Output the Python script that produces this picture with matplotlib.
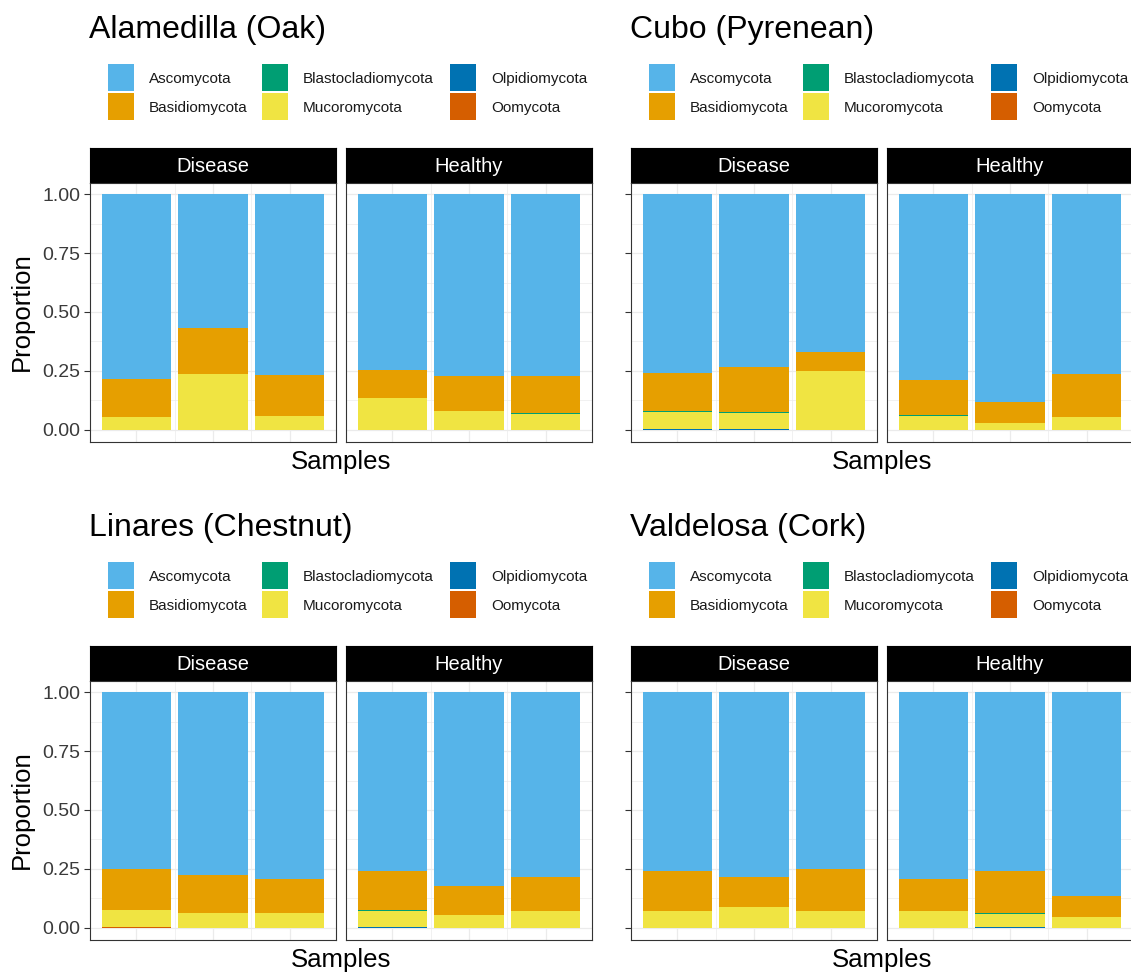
import matplotlib
matplotlib.use("Agg")
import matplotlib.pyplot as plt
from matplotlib.patches import Rectangle

plt.rcParams["font.family"] = ["Liberation Sans", "DejaVu Sans"]

# Phyla in legend order and their fill colours
PHYLA = ["Ascomycota", "Basidiomycota", "Blastocladiomycota",
         "Mucoromycota", "Olpidiomycota", "Oomycota"]
COLORS = ["#56B4E9", "#E69F00", "#009E73", "#F0E442", "#0072B2", "#D55E00"]
# Stacking order from the bottom of each bar upwards
STACK = ["Oomycota", "Olpidiomycota", "Mucoromycota",
         "Blastocladiomycota", "Basidiomycota", "Ascomycota"]

CONDITIONS = ["Disease", "Healthy"]
SAMPLES = [1, 2, 3]

# Relative abundance per sample: Disease 1-3 followed by Healthy 1-3
ALAMEDILLA = {
    "Oomycota":           [0, 0, 0, 0, 0, 0],
    "Olpidiomycota":      [0, 0, 0, 0, 0, 0],
    "Mucoromycota":       [0.056, 0.238, 0.060, 0.134, 0.081, 0.066],
    "Blastocladiomycota": [0, 0, 0, 0, 0, 0.004],
    "Basidiomycota":      [0.159, 0.192, 0.171, 0.120, 0.146, 0.159],
    "Ascomycota":         [0.785, 0.570, 0.769, 0.746, 0.773, 0.771],
}
CUBO = {
    "Oomycota":           [0, 0, 0, 0, 0, 0],
    "Olpidiomycota":      [0.004, 0.004, 0, 0, 0, 0],
    "Mucoromycota":       [0.073, 0.068, 0.249, 0.060, 0.028, 0.055],
    "Blastocladiomycota": [0.001, 0.003, 0, 0.004, 0, 0],
    "Basidiomycota":      [0.163, 0.190, 0.081, 0.146, 0.090, 0.183],
    "Ascomycota":         [0.759, 0.735, 0.670, 0.790, 0.882, 0.762],
}
LINARES = {
    "Oomycota":           [0.005, 0, 0, 0, 0, 0],
    "Olpidiomycota":      [0, 0, 0, 0.004, 0, 0],
    "Mucoromycota":       [0.071, 0.061, 0.062, 0.069, 0.055, 0.069],
    "Blastocladiomycota": [0, 0, 0, 0.003, 0, 0],
    "Basidiomycota":      [0.173, 0.162, 0.143, 0.167, 0.124, 0.148],
    "Ascomycota":         [0.751, 0.777, 0.795, 0.757, 0.821, 0.783],
}
VALDELOSA = {
    "Oomycota":           [0, 0, 0, 0, 0, 0],
    "Olpidiomycota":      [0, 0, 0, 0, 0.004, 0],
    "Mucoromycota":       [0.069, 0.090, 0.069, 0.072, 0.056, 0.044],
    "Blastocladiomycota": [0, 0, 0, 0, 0.002, 0],
    "Basidiomycota":      [0.170, 0.125, 0.180, 0.133, 0.178, 0.089],
    "Ascomycota":         [0.761, 0.785, 0.751, 0.795, 0.760, 0.867],
}

SITES = [
    ("Alamedilla (Oak)", ALAMEDILLA),
    ("Cubo (Pyrenean)", CUBO),
    ("Linares (Chestnut)", LINARES),
    ("Valdelosa (Cork)", VALDELOSA),
]
YTICKS = [0.0, 0.25, 0.5, 0.75, 1.0]
YTICKLABELS = ["0.00", "0.25", "0.50", "0.75", "1.00"]

W, H = 1131, 973
fig = plt.figure(figsize=(W / 100, H / 100), dpi=100)
color_of = dict(zip(PHYLA, COLORS))


def px_rect(x0, y0, x1, y1):
    return [x0 / W, 1 - y1 / H, (x1 - x0) / W, (y1 - y0) / H]


def fx(x):
    return x / W


def fy(y):
    return 1 - y / H


BORDER = "#333333"
GRID = "#EBEBEB"

# block origins (left edge of first facet, vertical offset of the row)
BLOCKS = [(90, 0), (631, 0), (90, 498), (631, 498)]
FACET_W = 246
FACET_GAP = 10

for (title, data), (bx, dy) in zip(SITES, BLOCKS):
    # title
    fig.text(fx(bx - 1), fy(30 + dy), title, fontsize=23, ha="left",
             va="center", color="black")

    # legend: two rows, three columns
    key_x = [bx + 18, bx + 172, bx + 360]
    lab_x = [bx + 59, bx + 213, bx + 401]
    row_y = [(64 + dy, 91 + dy), (93 + dy, 120 + dy)]
    for i, name in enumerate(PHYLA):
        c, r = divmod(i, 2)
        y0, y1 = row_y[r]
        fig.add_artist(Rectangle((fx(key_x[c]), fy(y1)), 26 / W, (y1 - y0) / H,
                                 transform=fig.transFigure,
                                 facecolor=color_of[name], edgecolor="none"))
        fig.text(fx(lab_x[c]), fy((y0 + y1) / 2 + 1.5), name, fontsize=11,
                 ha="left", va="center", color="#1A1A1A")

    left_col = bx < 300
    for k, cond in enumerate(CONDITIONS):
        x0 = bx + k * (FACET_W + FACET_GAP)
        x1 = x0 + FACET_W
        # strip
        sax = fig.add_axes(px_rect(x0, 148 + dy, x1, 182.5 + dy))
        sax.set_facecolor("black")
        sax.set_xticks([])
        sax.set_yticks([])
        for s in sax.spines.values():
            s.set_color("black")
        sax.text(0.5, 0.45, cond, transform=sax.transAxes, color="white",
                 fontsize=14.5, ha="center", va="center")

        ax = fig.add_axes(px_rect(x0, 182.5 + dy, x1, 441.5 + dy))
        ax.set_xlim(0.4, 3.6)
        ax.set_ylim(-0.05, 1.05)
        ax.set_axisbelow(True)
        ax.set_xticks([1, 2, 3])
        ax.set_xticks([1.5, 2.5], minor=True)
        ax.set_yticks(YTICKS)
        ax.set_yticks([0.125, 0.375, 0.625, 0.875], minor=True)
        ax.grid(which="major", color=GRID, lw=0.9)
        ax.grid(which="minor", color=GRID, lw=0.5)
        ax.tick_params(axis="x", which="both", length=0, labelbottom=False)
        ax.tick_params(axis="y", which="minor", length=0)
        if k == 0:
            ax.tick_params(axis="y", which="major", length=4, width=0.8,
                           color=BORDER, pad=3, labelsize=14,
                           labelcolor="#3A3A3A", labelleft=left_col)
            if left_col:
                ax.set_yticklabels(YTICKLABELS)
        else:
            ax.tick_params(axis="y", which="both", length=0, labelleft=False)
        for s in ax.spines.values():
            s.set_color(BORDER)
            s.set_linewidth(0.8)

        sl = slice(3 * k, 3 * k + 3)
        bottom = [0.0, 0.0, 0.0]
        for name in STACK:
            vals = data[name][sl]
            ax.bar(SAMPLES, vals, width=0.9, bottom=bottom,
                   color=color_of[name], edgecolor="none")
            bottom = [b + v for b, v in zip(bottom, vals)]

    # axis titles
    mid_x = bx + FACET_W + FACET_GAP / 2
    fig.text(fx(mid_x), fy(462 + dy), "Samples", fontsize=18.5,
             ha="center", va="center")
    if left_col:
        fig.text(fx(22), fy(312 + dy), "Proportion", fontsize=18.5,
                 ha="center", va="center", rotation=90)

fig.savefig("out.png", dpi=100, facecolor="white")
